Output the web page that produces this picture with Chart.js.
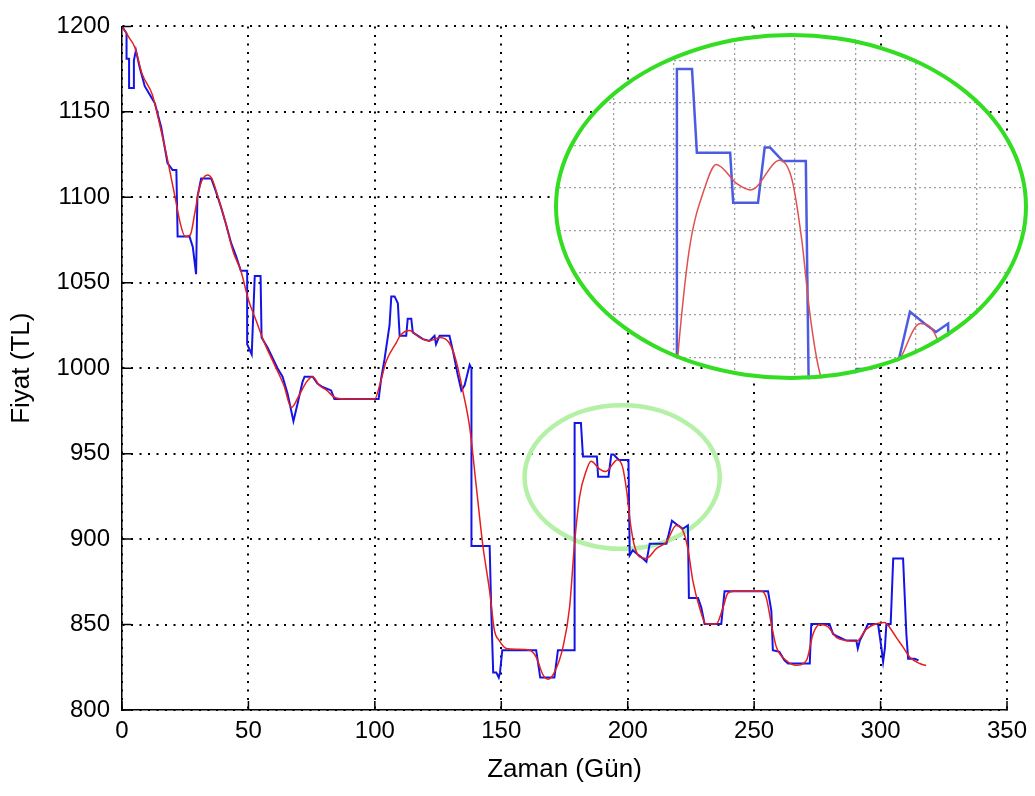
<!DOCTYPE html>
<html lang="tr">
<head>
<meta charset="UTF-8">
<title>Fiyat - Zaman</title>
<script src="https://cdn.jsdelivr.net/npm/chart.js"></script>
<style>
  body { margin: 0; background: #fff; }
  #wrap { position: relative; width: 1035px; height: 796px; }
  #zoomBox { position: absolute; left: 554px; top: 33px; width: 474px; height: 347px; border-radius: 50%; overflow: hidden; background: #fff; }
  #zoomRing { position: absolute; left: 554px; top: 33px; width: 474px; height: 347px; border-radius: 50%; border: 4.5px solid #33dd22; box-sizing: border-box; }
</style>
</head>
<body>
<div id="wrap">
  <canvas id="main" width="1035" height="796"></canvas>
  <div id="zoomBox"><canvas id="zoom" width="474" height="347"></canvas></div>
  <div id="zoomRing"></div>
</div>

<script>
// eksen degerleri
const xTicks = [0, 50, 100, 150, 200, 250, 300, 350];
const yTicks = [800, 850, 900, 950, 1000, 1050, 1100, 1150, 1200];

// gercek fiyat (mavi)
const blueDays = [0, 1.8, 1.8, 2.8, 2.8, 4.7, 4.7, 5.5, 7, 9, 11, 13, 15.5, 18, 19.5, 20, 21.5, 22, 26.7, 28, 29.3, 29.8, 31.3, 35.3,
  37, 39.2, 41, 43.2, 45, 47, 49.5, 49.5, 51.3, 52.5, 54.8, 55.2, 57.6, 61.5, 63.5, 65.5, 67.8, 69.4, 71.4, 72.2, 75.4,
  77.3, 79.3, 82.7, 84, 101.5, 102.5, 103.8, 105.8, 106.5, 107.8, 109.1, 109.8, 112.4, 113, 114.4, 115, 119, 121.6,
  123.6, 124.2, 125.6, 129.5, 130.9, 132.8, 134.2, 135.5, 137.5, 138.2, 138.2, 145.4, 146, 146.8, 148, 149, 149.5,
  150.4, 163.8, 165.4, 171, 172.4, 178.3, 179, 179, 181.5, 182.3, 187.8, 188.3, 192.4, 193.5, 194.4, 196.5, 200.3,
  200.8, 202, 204, 206, 207.4, 208.7, 215.3, 217.5, 219.9, 221.8, 223.8, 224.2, 227.8, 229.1, 230.4, 237, 238.3,
  255.5, 256.8, 257.4, 260, 262, 263.4, 272, 272.6, 279.8, 281.2, 283, 286.5, 290.4, 291, 291.8, 294.4, 295, 299,
  300.3, 301, 301.7, 302.3, 304, 305, 308.9, 310.2, 310.9, 313.5, 315];
const bluePrices = [1200, 1196, 1181, 1181, 1164, 1164, 1180, 1186, 1176, 1165, 1160, 1155, 1141, 1120, 1117, 1116, 1116, 1077, 1077, 1071, 1055, 1100, 1111, 1111,
  1104, 1094, 1085, 1073, 1066, 1057, 1057, 1014, 1008, 1054, 1054, 1018, 1012, 1000, 995, 985, 969, 979, 992, 995, 995,
  991, 989, 987, 982, 982, 994, 1005, 1025, 1042, 1042, 1038, 1019, 1019, 1029, 1029, 1021, 1017, 1016,
  1019, 1014, 1019, 1019, 1010, 996, 987, 990, 1002, 1000, 896, 896, 860, 822, 822, 819, 822,
  835, 835, 819, 819, 835, 835, 835, 968, 968, 948.3, 948.3, 936.5, 936.5, 949.5, 949.5, 946.3, 946.3,
  890.6, 893.5, 891, 888.7, 886.7, 897.3, 897.3, 910.8, 908, 906, 908, 865.6, 865.6, 860, 850.3, 850.3, 869.5,
  869.5, 858, 835, 834, 829, 827.2, 827.2, 850.3, 850.3, 844.5, 843, 840.6, 840.6, 836, 840.6, 848.3, 850.3, 850.3,
  836.8, 828.2, 836, 850.3, 850.3, 888.7, 888.7, 844.5, 830, 830, 829];

// yumusatilmis fiyat (kirmizi)
const redDays = [0, 3, 5, 8, 12, 15, 18, 21, 23, 25, 27, 28.7, 30.7, 33.8, 35.5, 38, 41, 44, 47, 50, 53, 56, 60, 64, 67, 70,
  73, 75.4, 78, 81, 84, 88, 100, 101.9, 104.5, 108.5, 110, 113.7, 117.7, 121.6, 125.6, 129.5, 132.2, 134.8, 137.5,
  140.1, 142.7, 145.4, 147.3, 149, 152, 156, 161.2, 163.8, 166.5, 168.5, 171, 174.4, 177, 179, 181, 183.6, 185.5,
  188.9, 191.2, 196, 198, 199.6, 201, 202.5, 204.7, 207.4, 211.3, 215.3, 219.2, 221.8, 223.8, 225.8, 228.4, 231, 235,
  237.7, 239.6, 242, 253, 254.8, 256.8, 258.8, 262.7, 266.7, 270.7, 273.3, 276, 279, 282.5, 286.5, 290.4, 294.4, 298,
  301.6, 303.6, 306.2, 308.9, 311.5, 315.5, 318];
const redPrices = [1200, 1193, 1188, 1172, 1160, 1142, 1122, 1100, 1085, 1077, 1078, 1090, 1106, 1113, 1111, 1100, 1085, 1068, 1057, 1040, 1028, 1016, 1003, 990, 977, 984,
  992, 995, 990, 987, 983, 982, 982, 990, 1004, 1015, 1019, 1022, 1018, 1016, 1018, 1014.6, 1004, 986.6, 965.5,
  931, 896.4, 869.5, 846.4, 841, 836, 835.5, 835, 831, 820.5, 818, 822, 836.8, 860, 898, 925, 940, 945.5,
  941, 939.5, 946.5, 942, 928, 910, 897, 889.6, 888.7, 894.4, 898.3, 908, 905, 894.4, 875.2, 860, 850.3, 850.3,
  860, 868.4, 869.5, 869.5, 865.6, 850.3, 836.8, 829, 826.2, 829, 844.5, 850, 849, 842.5, 840.6, 840.2, 847.3, 850.3,
  851.2, 848.3, 842.5, 836.8, 831, 827.2, 826];

// buyutulmus bolge
const zoomDays = [158.7, 237];
const zoomPrices = [894.7, 976.5];
const zoomGridDays = [168.5, 178.5, 188.5, 198.5, 208.5, 218.5, 228.5];
const zoomGridPrices = [900, 910, 920, 930, 940, 950, 960, 970];

// isaretli bolge (acik yesil elips)
const markCenter = [197.8, 936.3];
const markRadius = [38.6, 42];

Chart.defaults.font.family = "'Liberation Sans', Arial, sans-serif";
Chart.defaults.color = '#000';

const bluePts = blueDays.map((d, i) => ({ x: d, y: bluePrices[i] }));
const redPts = redDays.map((d, i) => ({ x: d, y: redPrices[i] }));

const inwardTicks = {
  id: 'inwardTicks',
  afterDraw(chart) {
    const { ctx, chartArea: a, scales: { x, y } } = chart;
    ctx.save();
    ctx.strokeStyle = '#000';
    ctx.lineWidth = 1.5;
    ctx.beginPath();
    x.ticks.forEach(t => {
      const px = x.getPixelForValue(t.value);
      ctx.moveTo(px, a.bottom);
      ctx.lineTo(px, a.bottom - 9);
    });
    y.ticks.forEach(t => {
      const py = y.getPixelForValue(t.value);
      ctx.moveTo(a.left, py);
      ctx.lineTo(a.left + 9, py);
    });
    ctx.stroke();
    ctx.restore();
  }
};

const markRing = {
  id: 'markRing',
  beforeDatasetsDraw(chart) {
    const { ctx, scales: { x, y } } = chart;
    const cx = x.getPixelForValue(markCenter[0]);
    const cy = y.getPixelForValue(markCenter[1]);
    const rx = x.getPixelForValue(markCenter[0] + markRadius[0]) - cx;
    const ry = cy - y.getPixelForValue(markCenter[1] + markRadius[1]);
    ctx.save();
    ctx.strokeStyle = '#b4f0a6';
    ctx.lineWidth = 4.5;
    ctx.beginPath();
    ctx.ellipse(cx, cy, rx, ry, 0, 0, Math.PI * 2);
    ctx.stroke();
    ctx.restore();
  }
};

new Chart(document.getElementById('main'), {
  type: 'line',
  data: {
    datasets: [
      { label: 'Fiyat', data: bluePts, borderColor: '#1414e6', borderWidth: 2, order: 1 },
      { label: 'Tahmin', data: redPts, borderColor: '#e61e1e', borderWidth: 1.5, tension: 0.4, cubicInterpolationMode: 'monotone', order: 0 }
    ]
  },
  options: {
    responsive: false,
    animation: false,
    layout: { padding: { left: 0, right: 28, top: 17, bottom: 0 } },
    elements: { point: { radius: 0 } },
    plugins: { legend: { display: false }, tooltip: { enabled: false } },
    scales: {
      x: {
        type: 'linear', min: 0, max: 350,
        afterBuildTicks: s => { s.ticks = xTicks.map(v => ({ value: v })); },
        afterFit: s => { s.height = 86; },
        grid: { color: '#000', lineWidth: 2, drawTicks: false },
        border: { color: '#000', width: 1.5, dash: [2, 6.5] },
        ticks: { font: { size: 24 }, padding: 7, maxRotation: 0, callback: v => String(v) },
        title: { display: true, text: 'Zaman (Gün)', font: { size: 26 }, padding: { top: 0, bottom: 11 } }
      },
      y: {
        min: 800, max: 1200,
        afterBuildTicks: s => { s.ticks = yTicks.map(v => ({ value: v })); },
        afterFit: s => { s.width = 122; },
        grid: { color: '#000', lineWidth: 2, drawTicks: false },
        border: { color: '#000', width: 1.5, dash: [2, 6.5] },
        ticks: { font: { size: 24 }, padding: 12, callback: v => String(v) },
        title: { display: true, text: 'Fiyat (TL)', font: { size: 26 }, padding: { top: 6, bottom: 0 } }
      }
    }
  },
  plugins: [markRing, inwardTicks]
});

new Chart(document.getElementById('zoom'), {
  type: 'line',
  data: {
    datasets: [
      { data: bluePts, borderColor: '#4c5ce0', borderWidth: 2.5, order: 1 },
      { data: redPts, borderColor: '#e05050', borderWidth: 1.5, tension: 0.4, cubicInterpolationMode: 'monotone', order: 0 }
    ]
  },
  options: {
    responsive: false,
    animation: false,
    layout: { padding: 0 },
    elements: { point: { radius: 0 } },
    plugins: { legend: { display: false }, tooltip: { enabled: false } },
    scales: {
      x: {
        type: 'linear', min: zoomDays[0], max: zoomDays[1],
        afterBuildTicks: s => { s.ticks = zoomGridDays.map(v => ({ value: v })); },
        afterFit: s => { s.height = 0; },
        ticks: { display: false },
        grid: { color: '#a0a0a0', lineWidth: 1.3, drawTicks: false },
        border: { display: false, width: 0, dash: [2, 3] }
      },
      y: {
        min: zoomPrices[0], max: zoomPrices[1],
        afterBuildTicks: s => { s.ticks = zoomGridPrices.map(v => ({ value: v })); },
        afterFit: s => { s.width = 0; },
        ticks: { display: false },
        grid: { color: '#a0a0a0', lineWidth: 1.3, drawTicks: false },
        border: { display: false, width: 0, dash: [2, 3] }
      }
    }
  }
});
</script>
</body>
</html>
